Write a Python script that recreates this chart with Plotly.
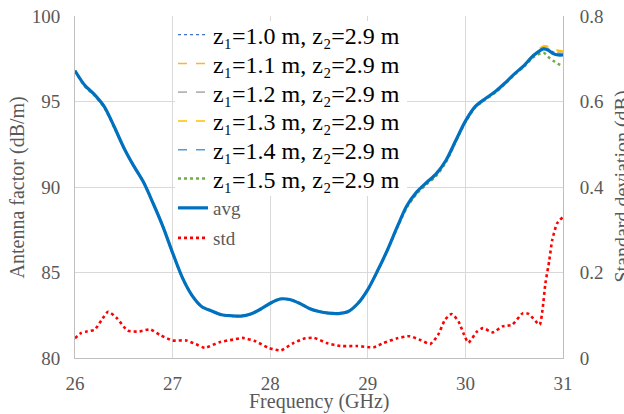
import plotly.graph_objects as go

# ---------------- data ----------------
freq = [26.0, 26.1, 26.2, 26.3, 26.4, 26.5, 26.6, 26.7, 26.8, 26.9,
        27.0, 27.1, 27.2, 27.3, 27.4, 27.5, 27.6, 27.7, 27.8, 27.9,
        28.0, 28.1, 28.2, 28.3, 28.4, 28.5, 28.6, 28.7, 28.8, 28.9,
        29.0, 29.1, 29.2, 29.3, 29.4, 29.5, 29.6, 29.7, 29.8, 29.9,
        30.0, 30.1, 30.2, 30.3, 30.4, 30.5, 30.6, 30.7, 30.8, 30.85,
        30.9, 30.95, 31.0]

af_avg = [96.8, 95.95, 95.4, 94.7, 93.55, 92.3, 91.25, 90.3, 89.05, 87.7,
          86.15, 84.7, 83.65, 83.0, 82.75, 82.53, 82.47, 82.45, 82.57, 82.85,
          83.2, 83.45, 83.42, 83.2, 82.9, 82.72, 82.62, 82.6, 82.72, 83.2,
          84.0, 85.1, 86.3, 87.65, 88.9, 89.7, 90.25, 90.77, 91.55, 92.7,
          93.85, 94.7, 95.15, 95.55, 96.05, 96.6, 97.1, 97.7, 98.08, 98.0,
          97.8, 97.72, 97.72]

af_z10 = [96.8, 95.95, 95.4, 94.7, 93.55, 92.3, 91.25, 90.3, 89.05, 87.7,
          86.15, 84.7, 83.65, 83.0, 82.75, 82.53, 82.47, 82.45, 82.57, 82.85,
          83.2, 83.45, 83.42, 83.2, 82.9, 82.72, 82.62, 82.6, 82.72, 83.2,
          84.0, 85.1, 86.3, 87.65, 88.9, 89.7, 90.25, 90.77, 91.55, 92.7,
          93.85, 94.7, 95.15, 95.55, 96.05, 96.6, 97.1, 97.72, 98.12, 98.08,
          97.9, 97.82, 97.8]
af_z11 = [96.8, 95.95, 95.4, 94.7, 93.55, 92.3, 91.25, 90.3, 89.05, 87.7,
          86.15, 84.7, 83.65, 83.0, 82.75, 82.53, 82.47, 82.45, 82.57, 82.85,
          83.2, 83.45, 83.42, 83.2, 82.9, 82.72, 82.62, 82.6, 82.72, 83.2,
          84.0, 85.1, 86.3, 87.65, 88.9, 89.7, 90.25, 90.77, 91.55, 92.7,
          93.85, 94.7, 95.15, 95.55, 96.05, 96.6, 97.12, 97.78, 98.22, 98.2,
          98.05, 97.95, 97.9]
af_z12 = [96.8, 95.95, 95.4, 94.7, 93.55, 92.3, 91.25, 90.3, 89.05, 87.7,
          86.15, 84.7, 83.65, 83.0, 82.75, 82.53, 82.47, 82.45, 82.57, 82.85,
          83.2, 83.45, 83.42, 83.2, 82.9, 82.72, 82.62, 82.6, 82.72, 83.2,
          84.0, 85.1, 86.3, 87.65, 88.9, 89.7, 90.25, 90.77, 91.55, 92.7,
          93.85, 94.7, 95.15, 95.55, 96.05, 96.6, 97.1, 97.72, 98.15, 98.1,
          97.95, 97.85, 97.82]
af_z13 = [96.8, 95.95, 95.4, 94.7, 93.55, 92.3, 91.25, 90.3, 89.05, 87.7,
          86.15, 84.7, 83.65, 83.0, 82.75, 82.53, 82.47, 82.45, 82.57, 82.85,
          83.2, 83.45, 83.42, 83.2, 82.9, 82.72, 82.62, 82.6, 82.72, 83.2,
          84.0, 85.1, 86.3, 87.65, 88.9, 89.7, 90.25, 90.77, 91.55, 92.7,
          93.85, 94.7, 95.15, 95.55, 96.05, 96.6, 97.12, 97.78, 98.25, 98.22,
          98.08, 98.0, 97.95]
af_z14 = [96.8, 95.95, 95.4, 94.7, 93.55, 92.3, 91.25, 90.3, 89.05, 87.7,
          86.15, 84.7, 83.65, 83.0, 82.75, 82.53, 82.47, 82.45, 82.57, 82.85,
          83.2, 83.45, 83.42, 83.2, 82.9, 82.72, 82.62, 82.6, 82.72, 83.2,
          84.0, 85.1, 86.3, 87.65, 88.9, 89.7, 90.25, 90.77, 91.55, 92.7,
          93.85, 94.7, 95.15, 95.55, 96.05, 96.6, 97.1, 97.7, 98.1, 98.05,
          97.85, 97.78, 97.75]
af_z15 = [96.8, 95.9, 95.35, 94.65, 93.5, 92.3, 91.25, 90.3, 89.05, 87.7,
          86.15, 84.7, 83.65, 83.0, 82.75, 82.53, 82.47, 82.45, 82.57, 82.85,
          83.2, 83.45, 83.42, 83.2, 82.9, 82.72, 82.62, 82.6, 82.72, 83.2,
          84.0, 85.1, 86.3, 87.6, 88.8, 89.6, 90.15, 90.65, 91.45, 92.65,
          93.8, 94.65, 95.1, 95.5, 96.0, 96.55, 97.05, 97.6, 97.85, 97.6,
          97.38, 97.2, 97.08]

std_freq = [26.0, 26.06, 26.12, 26.2, 26.27, 26.34, 26.43, 26.54, 26.66, 26.77,
            26.87, 27.0, 27.14, 27.24, 27.33, 27.48, 27.62, 27.72, 27.85, 27.99,
            28.11, 28.23, 28.36, 28.45, 28.58, 28.72, 28.89, 29.06, 29.16, 29.3,
            29.43, 29.54, 29.64, 29.72, 29.79, 29.86, 29.93, 29.98, 30.03, 30.12,
            30.18, 30.28, 30.38, 30.48, 30.59, 30.65, 30.76, 30.79, 30.82, 30.86,
            30.89, 30.94, 31.0]
std_vals = [0.046, 0.058, 0.062, 0.066, 0.088, 0.108, 0.093, 0.064, 0.062, 0.067,
            0.054, 0.041, 0.041, 0.032, 0.024, 0.037, 0.043, 0.047, 0.039, 0.023,
            0.018, 0.034, 0.046, 0.047, 0.035, 0.028, 0.028, 0.025, 0.035, 0.046,
            0.051, 0.042, 0.033, 0.054, 0.089, 0.103, 0.085, 0.058, 0.036, 0.062,
            0.07, 0.06, 0.074, 0.078, 0.105, 0.103, 0.078, 0.113, 0.175, 0.229,
            0.276, 0.315, 0.33]

x_ticks = [26, 27, 28, 29, 30, 31]
y_left_ticks = [80, 85, 90, 95, 100]
y_right_ticks = [0, 0.2, 0.4, 0.6, 0.8]

z_names = ["z\u2081=1.0 m, z\u2082=2.9 m",
           "z\u2081=1.1 m, z\u2082=2.9 m",
           "z\u2081=1.2 m, z\u2082=2.9 m",
           "z\u2081=1.3 m, z\u2082=2.9 m",
           "z\u2081=1.4 m, z\u2082=2.9 m",
           "z\u2081=1.5 m, z\u2082=2.9 m"]
z_series = [af_z10, af_z11, af_z12, af_z13, af_z14, af_z15]

# ---------------- styles ----------------
z_colors = ["#4472C4", "#F5B82E", "#B4B4B4", "#FFC000", "#5B9BD5", "#70AD47"]
z_dashes = ["dot", "dash", "dash", "dash", "dash", "dot"]
z_widths = [1.2, 1.5, 1.8, 1.5, 1.5, 2.5]

FONT = "Liberation Serif"
GRAY = "#595959"

# plot area in pixels: x 75..563, y 16..358
PLOT_TOP, PLOT_BOTTOM, PLOT_LEFT, PLOT_W = 16, 358, 75, 488
PLOT_H = PLOT_BOTTOM - PLOT_TOP
row_centers = [36.5, 65.3, 94.1, 122.9, 151.7, 180.5, 210, 240]
item_offsets = [24, 24, 24, 24, 24, 24, 21, 21]


def px_to_paper_y(py):
    return (PLOT_BOTTOM - py) / PLOT_H


def px_to_paper_x(px):
    return (px - PLOT_LEFT) / PLOT_W


legend_x = px_to_paper_x(173)
legend_keys = ["legend"] + ["legend%d" % i for i in range(2, 9)]

fig = go.Figure()

for i, (name, vals, c, d, w) in enumerate(zip(z_names, z_series, z_colors, z_dashes, z_widths)):
    fig.add_trace(go.Scatter(x=freq, y=vals, name=name, mode="lines",
                             line=dict(color=c, dash=d, width=w, shape="spline", smoothing=0.8),
                             legend=legend_keys[i], yaxis="y"))

fig.add_trace(go.Scatter(x=freq, y=af_avg, name="avg", mode="lines",
                         line=dict(color="#0070C0", width=3.2, shape="spline", smoothing=0.8),
                         legend=legend_keys[6], yaxis="y"))
fig.add_trace(go.Scatter(x=std_freq, y=std_vals, name="std", mode="lines",
                         line=dict(color="#FF0000", width=2.6, dash="dot", shape="spline", smoothing=0.6),
                         legend=legend_keys[7], yaxis="y2"))

legend_layout = {}
for i, key in enumerate(legend_keys):
    is_z = i < 6
    legend_layout[key] = dict(
        x=legend_x, y=px_to_paper_y(row_centers[i] - item_offsets[i]),
        xanchor="left", yanchor="top",
        bgcolor="rgba(0,0,0,0)", borderwidth=0,
        font=dict(family=FONT, size=24 if is_z else 19, color="black" if is_z else GRAY),
        itemwidth=30,
    )

# white backing box behind the z-legend block (covers gridlines, as in the reference)
legend_box = dict(type="rect", xref="paper", yref="paper", layer="above",
                  x0=px_to_paper_x(175), x1=px_to_paper_x(407),
                  y0=px_to_paper_y(196), y1=px_to_paper_y(21),
                  fillcolor="white", line=dict(width=0))

fig.update_layout(
    width=624, height=414,
    margin=dict(l=75, r=61, t=16, b=56, autoexpand=False),
    paper_bgcolor="white", plot_bgcolor="white",
    font=dict(family=FONT, size=19, color=GRAY),
    xaxis=dict(range=[26, 31], tickvals=x_ticks, showgrid=True, gridcolor="#D9D9D9",
               gridwidth=1, showline=True, linecolor="#BFBFBF", linewidth=1,
               zeroline=False, ticks="", ticklabelstandoff=8, automargin=False,
               tickfont=dict(family=FONT, size=19, color=GRAY)),
    yaxis=dict(range=[80, 100], tickvals=y_left_ticks, showgrid=True, gridcolor="#D9D9D9",
               gridwidth=1, showline=True, linecolor="#BFBFBF", linewidth=1,
               zeroline=False, ticks="", ticklabelstandoff=10, automargin=False,
               tickfont=dict(family=FONT, size=19, color=GRAY)),
    yaxis2=dict(range=[0, 0.8], tickvals=y_right_ticks, overlaying="y", side="right",
                showgrid=False, showline=True, linecolor="#BFBFBF", linewidth=1,
                zeroline=False, ticks="", ticklabelstandoff=12, automargin=False,
                tickfont=dict(family=FONT, size=19, color=GRAY)),
    showlegend=True,
    shapes=[legend_box],
    annotations=[
        dict(text="Frequency (GHz)", xref="paper", yref="paper", x=0.5, y=-0.128,
             xanchor="center", yanchor="middle", showarrow=False,
             font=dict(family=FONT, size=20, color=GRAY)),
        dict(text="Antenna factor (dB/m)", xref="paper", yref="paper", x=-0.118, y=0.5,
             textangle=-90, xanchor="center", yanchor="middle", showarrow=False,
             font=dict(family=FONT, size=20, color=GRAY)),
        dict(text="Standard deviation (dB)", xref="paper", yref="paper", x=1.12, y=0.5,
             textangle=-90, xanchor="center", yanchor="middle", showarrow=False,
             font=dict(family=FONT, size=20, color=GRAY)),
    ],
    **legend_layout,
)

fig.write_html("out.html", config={"displayModeBar": False},
               post_script="document.body.style.margin='0';")
